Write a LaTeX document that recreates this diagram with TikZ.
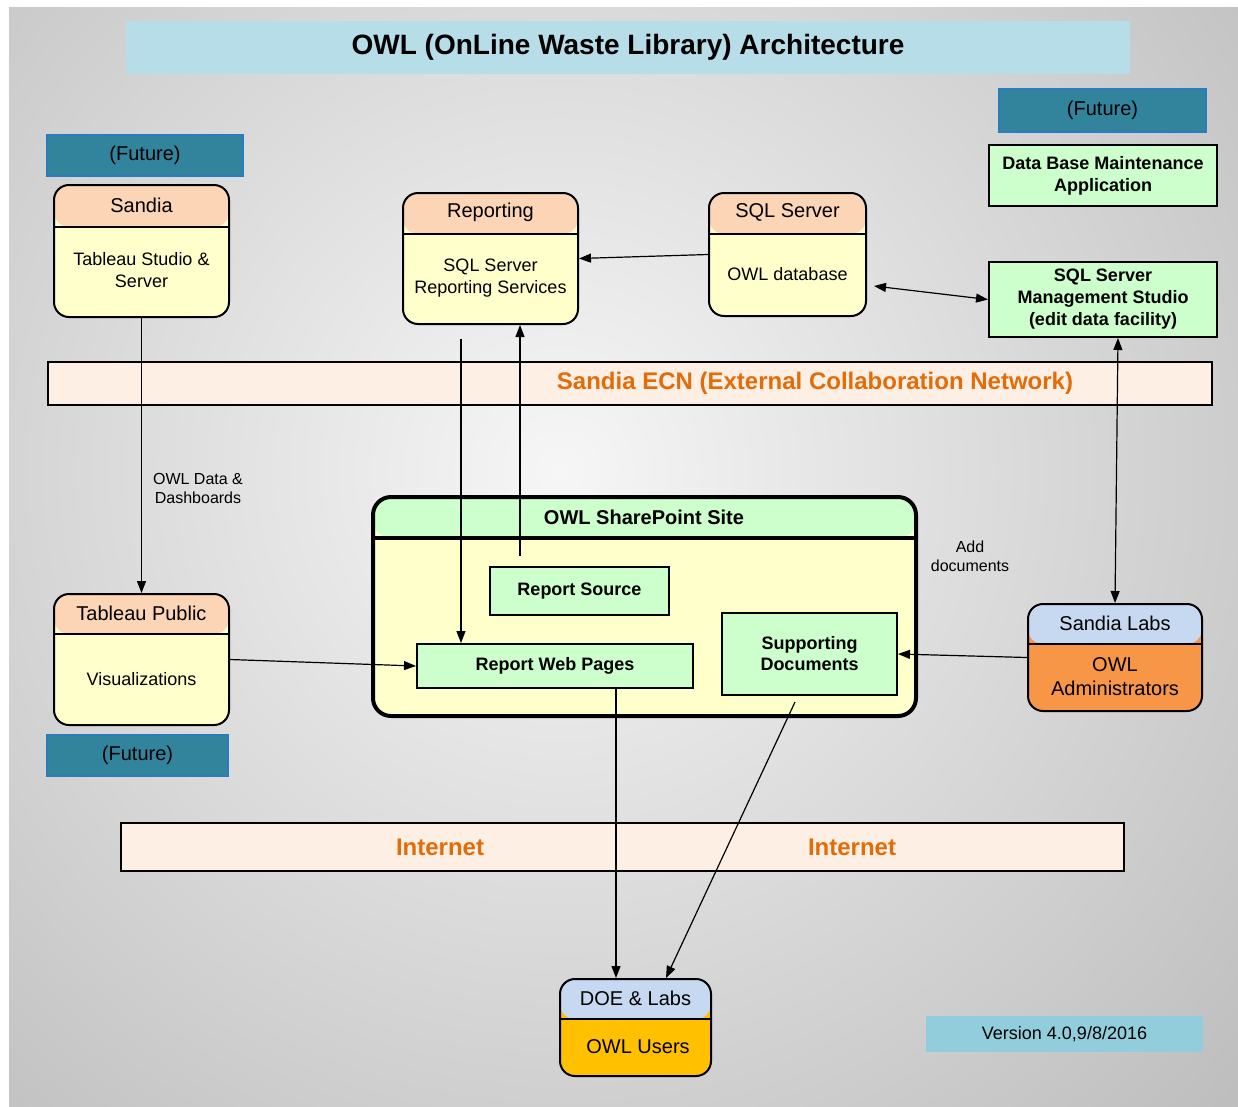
\documentclass[tikz,border=0pt]{standalone}
\usepackage{fontspec}
\setmainfont{Liberation Sans}
\usetikzlibrary{arrows.meta,calc}
\definecolor{titlebg}{HTML}{B7DDE8}
\definecolor{futfill}{HTML}{31849B}
\definecolor{futdraw}{HTML}{2A7BC0}
\definecolor{peach}{HTML}{FBD5B5}
\definecolor{lyellow}{HTML}{FFFFCC}
\definecolor{lgreen}{HTML}{CCFFCC}
\definecolor{netfill}{HTML}{FDEFE4}
\definecolor{netorange}{HTML}{E36C09}
\definecolor{lblue}{HTML}{C6D9F0}
\definecolor{orangebody}{HTML}{F79646}
\definecolor{gold}{HTML}{FFC000}
\definecolor{verfill}{HTML}{92CDDC}
\definecolor{bgin}{HTML}{F6F6F6}
\definecolor{bgout}{HTML}{B3B3B3}
\tikzset{
  bodytxt/.style={font=\fontsize{18}{21.5}\selectfont, align=center, inner sep=0pt},
  bigtxt/.style={font=\fontsize{20}{24}\selectfont, align=center, inner sep=0pt},
  smalltxt/.style={font=\fontsize{16}{19}\selectfont, align=center, inner sep=0pt},
  splitbox/.style n args={4}{draw=black, line width=#4, rounded corners=15pt, fill=#3, inner sep=0pt,
    path picture={
      \fill[#2] ([yshift=2pt]path picture bounding box.north west) rectangle ([yshift=-#1]path picture bounding box.north east);
      \draw[line width=#4] ([yshift=-#1]path picture bounding box.north west) -- ([yshift=-#1]path picture bounding box.north east);
    }},
  futbox/.style={draw=futdraw, line width=1.3pt, fill=futfill, inner sep=0pt, font=\fontsize{20}{24}\selectfont},
  greenbox/.style={draw=black, line width=2pt, fill=lgreen, inner sep=0pt, align=center, font=\bfseries\fontsize{18}{22}\selectfont},
  netbar/.style={draw=black, line width=2pt, fill=netfill, inner sep=0pt},
  nettxt/.style={text=netorange, font=\bfseries\fontsize{24}{28}\selectfont, inner sep=0pt},
  arr/.style={line width=1.2pt, -{Triangle[length=12pt,width=9pt]}},
  darr/.style={line width=1.2pt, {Triangle[length=12pt,width=9pt]}-{Triangle[length=12pt,width=9pt]}},
}
\begin{document}
\begin{tikzpicture}[x=1pt,y=-1pt]
\useasboundingbox (0,0) rectangle (1238,1106);
\fill[white] (0,0) rectangle (1238,1106);
\begin{scope}
  \clip (9,7) rectangle (1238,1106);
  \shade[inner color=bgin, outer color=bgout] (560,470) circle (1100);
\end{scope}

% title
\node[fill=titlebg, minimum width=1004pt, minimum height=53pt, inner sep=0pt, font=\bfseries\fontsize{28}{34}\selectfont] (title) at (628,47.5) {OWL (OnLine Waste Library) Architecture};

% network bars
\node[netbar, minimum width=1164pt, minimum height=43pt] (ecn) at (630,383.5) {};
\node[nettxt] (ecnt) at (815,383) {Sandia ECN (External Collaboration Network)};
\node[netbar, minimum width=1003pt, minimum height=48pt] (inet) at (622.5,847) {};
\node[nettxt] (inet1) at (440,847) {Internet};
\node[nettxt] (inet2) at (852,847) {Internet};

% future boxes
\node[futbox, minimum width=196pt, minimum height=41pt] (fut1) at (145,155.5) {(Future)};
\node[futbox, minimum width=207pt, minimum height=43pt] (fut2) at (1102.5,110.5) {(Future)};
\node[futbox, minimum width=181pt, minimum height=41pt] (fut3) at (137.5,755.5) {(Future)};

% Sandia
\node[splitbox={42pt}{peach}{lyellow}{2pt}, minimum width=175pt, minimum height=132pt] (sandia) at (141.5,251) {};
\node[bigtxt] (sandiaH) at (141.5,205) {Sandia};
\node[bodytxt] (sandiaB) at (141.5,270) {Tableau Studio \&\\Server};

% Reporting
\node[splitbox={41pt}{peach}{lyellow}{2pt}, minimum width=175pt, minimum height=131pt] (rep) at (490.5,258.5) {};
\node[bigtxt] (repH) at (490.5,212) {Reporting};
\node[bodytxt] (repB) at (490.5,278) {SQL Server\\Reporting Services};

% SQL Server
\node[splitbox={41pt}{peach}{lyellow}{2pt}, minimum width=157pt, minimum height=123pt] (sql) at (787.5,254.5) {};
\node[bigtxt] (sqlH) at (787.5,212) {SQL Server};
\node[bodytxt] (sqlB) at (787.5,274) {OWL database};

% DB maintenance & SSMS
\node[greenbox, minimum width=228pt, minimum height=61pt] (dbm) at (1103,175.5) {Data Base Maintenance\\Application};
\node[greenbox, minimum width=228pt, minimum height=75pt] (ssms) at (1103,299.5) {SQL Server\\Management Studio\\(edit data facility)};

% Tableau Public
\node[splitbox={40pt}{peach}{lyellow}{2pt}, minimum width=175pt, minimum height=131pt] (tab) at (141.5,659.5) {};
\node[bigtxt] (tabH) at (141.5,613) {Tableau Public};
\node[bodytxt] (tabB) at (141.5,679) {Visualizations};

% SharePoint
\node[splitbox={41pt}{lgreen}{lyellow}{4pt}, rounded corners=18pt, minimum width=543pt, minimum height=219pt] (sp) at (644.5,606.5) {};
\node[font=\bfseries\fontsize{20}{24}\selectfont, inner sep=0pt] (spH) at (644,517) {OWL SharePoint Site};
\node[greenbox, minimum width=179pt, minimum height=48pt] (rsrc) at (579.5,591) {Report Source};
\node[greenbox, minimum width=276pt, minimum height=44pt] (rweb) at (555,666) {Report Web Pages};
\node[greenbox, minimum width=175pt, minimum height=82pt, font=\bfseries\fontsize{18}{21}\selectfont] (supp) at (809.5,654) {Supporting\\Documents};

% Sandia Labs
\node[splitbox={40pt}{lblue}{orangebody}{2pt}, minimum width=174pt, minimum height=107pt] (labs) at (1115,657.5) {};
\node[bigtxt] (labsH) at (1115,623) {Sandia Labs};
\node[bigtxt] (labsB) at (1115,677) {OWL\\Administrators};

% DOE
\node[splitbox={40pt}{lblue}{gold}{2pt}, minimum width=151pt, minimum height=97pt] (doe) at (635.5,1027.5) {};
\node[bigtxt] (doeH) at (635.5,998) {DOE \& Labs};
\node[bigtxt] (doeB) at (638,1047) {OWL Users};

% version
\node[fill=verfill, minimum width=277pt, minimum height=36pt, inner sep=0pt, font=\fontsize{18}{21}\selectfont] (ver) at (1064.5,1034) {Version 4.0,9/8/2016};

% labels
\node[smalltxt] (lbl1) at (198,488) {OWL Data \&\\Dashboards};
\node[smalltxt] (lbl2) at (970,556) {Add\\documents};

% connectors
\draw[arr] (sandia.south) -- (tab.north);
\draw[arr] (sql.west) -- (rep.east);
\draw[darr] ([shift={(7,31.5)}]sql.east) -- (ssms.west);
\draw[darr] ([xshift=15pt]ssms.south) -- (labs.north);
\coordinate (c5) at ([shift={(-29.5,14)}]rep.south);
\draw[arr] (c5) -- (c5 |- rweb.north);
\coordinate (c6) at ([shift={(-59.5,-10)}]rsrc.north);
\draw[arr] (c6) -- (c6 |- rep.south);
\draw[arr] (tab.east) -- (rweb.west);
\draw[arr] (labs.west) -- (supp.east);
\coordinate (c9) at ([xshift=61pt]rweb.south);
\draw[arr] (c9) -- (c9 |- doe.north);
\draw[arr] ([shift={(-14.5,6)}]supp.south) -- ([xshift=30.5pt]doe.north);
\end{tikzpicture}
\end{document}
